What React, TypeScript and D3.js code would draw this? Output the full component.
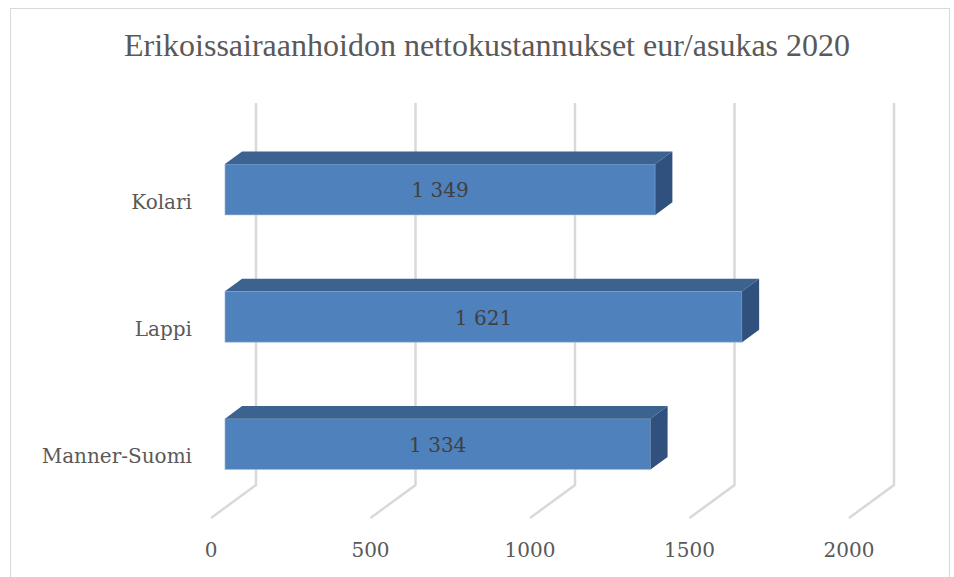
import React, { useRef, useEffect } from "react";
import * as d3 from "d3";

const categories = ["Kolari", "Lappi", "Manner-Suomi"];
const values = [1349, 1621, 1334];
const ticks = [0, 500, 1000, 1500, 2000];
const title = "Erikoissairaanhoidon nettokustannukset eur/asukas 2020";

export default function App() {
  const svgRef = useRef<SVGSVGElement | null>(null);

  useEffect(() => {
    const W = 954, H = 577;
    const svg = d3.select(svgRef.current).attr("width", W).attr("height", H);
    svg.selectAll("*").remove();

    // depth offset from back wall to front edge of floor
    const DX = -45, DY = 33;
    const off = (d: number) => [DX * d, DY * d];

    const x = d3.scaleLinear().domain([0, 2000]).range([256, 894]);
    const y = d3.scaleBand().domain(categories).range([103, 485]).paddingInner(0.6).paddingOuter(0.3);
    const floorY = 485;

    const fmt = d3.formatLocale({ decimal: ",", thousands: " ", grouping: [3], currency: ["", "€"] }).format(",d");
    const serif = "'DejaVu Serif', serif";

    svg.append("rect").attr("x", 10.5).attr("y", 8.5).attr("width", 939).attr("height", 580)
      .attr("fill", "#fff").attr("stroke", "#d9d9d9").attr("stroke-width", 1);

    svg.append("text").attr("x", 487).attr("y", 56).attr("text-anchor", "middle")
      .attr("font-family", "'Liberation Serif', serif").attr("font-size", 32).attr("fill", "#595959")
      .text(title);

    // gridlines: back wall vertical + floor diagonal
    const grid = svg.append("g").attr("fill", "none").attr("stroke", "#d9d9d9").attr("stroke-width", 2.5);
    ticks.forEach(t => {
      const [fx, fy] = off(1);
      grid.append("path").attr("d", `M${x(t)},${y.range()[0]}V${floorY}L${x(t) + fx},${floorY + fy}`);
    });

    // tick labels on the front edge
    svg.append("g").selectAll("text").data(ticks).join("text")
      .attr("x", d => x(d) + DX).attr("y", 557).attr("text-anchor", "middle")
      .attr("font-family", serif).attr("font-size", 20).attr("fill", "#595959")
      .text(d => d);

    // 3D bars, sitting in the middle of the depth
    const d0 = 0.31, d1 = 0.69;
    const bars = svg.append("g").selectAll("g").data(categories).join("g");
    bars.each(function (c, i) {
      const g = d3.select(this);
      const [bx, by] = off(d0);
      const [fx, fy] = off(d1);
      const top = (y(c) as number), bot = top + y.bandwidth();
      const x0 = x(0), x1 = x(values[i]);
      // front face
      g.append("path").attr("fill", "#4f81bd").attr("stroke", "#a7bfdc").attr("stroke-width", 0.6)
        .attr("d", `M${x0 + fx},${top + fy}H${x1 + fx}V${bot + fy}H${x0 + fx}Z`);
      // top face
      g.append("path").attr("fill", "#3c6390")
        .attr("d", `M${x0 + fx},${top + fy}L${x0 + bx},${top + by}H${x1 + bx}L${x1 + fx},${top + fy}Z`);
      // side face
      g.append("path").attr("fill", "#30517d")
        .attr("d", `M${x1 + fx},${top + fy}L${x1 + bx},${top + by}V${bot + by}L${x1 + fx},${bot + fy}Z`);
      // value label
      g.append("text").attr("x", (x0 + x1) / 2 + fx).attr("y", (top + bot) / 2 + fy + 8)
        .attr("text-anchor", "middle").attr("font-family", serif).attr("font-size", 20)
        .attr("fill", "#404040").text(fmt(values[i]));
    });

    // category labels
    svg.append("g").selectAll("text").data(categories).join("text")
      .attr("x", 192).attr("y", d => (y(d) as number) + y.bandwidth() / 2 + DY + 9)
      .attr("text-anchor", "end").attr("font-family", serif).attr("font-size", 20).attr("fill", "#595959")
      .text(d => d);
  }, []);

  return <svg ref={svgRef} style={{ position: "absolute", left: 0, top: 0 }} />;
}
